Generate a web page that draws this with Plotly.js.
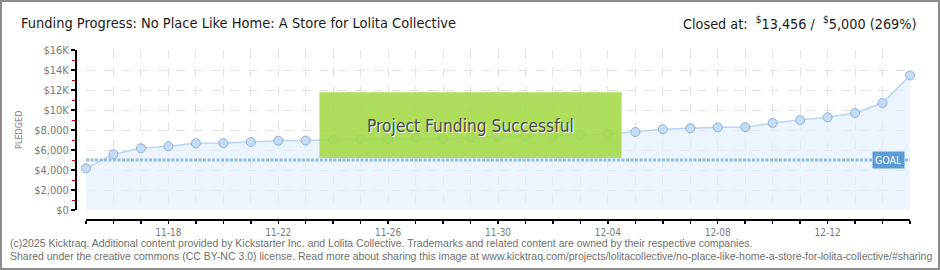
<!DOCTYPE html>
<html>
<head>
<meta charset="utf-8">
<script src="https://cdn.plot.ly/plotly-3.0.1.min.js"></script>
<style>
  html, body { margin: 0; padding: 0; background: #fff; }
  #wrap { position: relative; width: 940px; height: 270px; }
  #chart { position: absolute; left: 0; top: 0; width: 940px; height: 270px; }
  #frame { position: absolute; left: 0; top: 0; width: 940px; height: 270px; box-sizing: border-box;
           border: 2px solid #8c8c8c; pointer-events: none; }
</style>
</head>
<body>
<div id="wrap"><div id="chart"></div><div id="frame"></div></div>
<script>
// ---- data ----
const dates = ["11-15","11-16","11-17","11-18","11-19","11-20","11-21","11-22","11-23","11-24",
               "11-25","11-26","11-27","11-28","11-29","11-30","12-01","12-02","12-03","12-04",
               "12-05","12-06","12-07","12-08","12-09","12-10","12-11","12-12","12-13","12-14","12-15"];
const pledged = [4170, 5570, 6170, 6370, 6670, 6690, 6800, 6930, 6950, 7020,
                 7100, 7080, 7180, 7100, 7250, 7340, 7400, 7420, 7500, 7600,
                 7800, 8070, 8170, 8270, 8280, 8700, 9000, 9270, 9700, 10700, 13456];
const goal = 5000;
const xTickLabels = ["11-18","11-22","11-26","11-30","12-04","12-08","12-12"];
const yTickVals = [0, 2000, 4000, 6000, 8000, 10000, 12000, 14000, 16000];
const yTickText = ["$0","$2,000","$4,000","$6,000","$8,000","$10K","$12K","$14K","$16K"];
const titleText = "Funding Progress: No Place Like Home: A Store for Lolita Collective";
const closedText = "Closed at:  <sup>$</sup>13,456 /  <sup>$</sup>5,000 (269%)";
const footer1 = "(c)2025 Kicktraq. Additional content provided by Kickstarter Inc. and Lolita Collective. Trademarks and related content are owned by their respective companies.";
const footer2 = "Shared under the creative commons (CC BY-NC 3.0) license. Read more about sharing this image at www.kicktraq.com/projects/lolitacollective/no-place-like-home-a-store-for-lolita-collective/#sharing";

// ---- geometry (px) ----
const W = 940, H = 270;
const mL = 76, mR = 30, mT = 50, mB = 50;
const pw = W - mL - mR, ph = H - mT - mB;
const px = v => (v - mL) / pw;          // page x px -> paper
const py = v => (H - mB - v) / ph;      // page y px -> paper

// numeric positions of the dates on the axis, labelled through tickvals/ticktext
const xIdx = dates.map((d, i) => i);
const labelIdx = xTickLabels.map(l => dates.indexOf(l));

const trace = {
  x: xIdx, y: pledged, type: "scatter", mode: "lines+markers",
  text: dates,
  line: {color: "#b9d5f3", width: 1.5},
  fill: "tozeroy", fillcolor: "rgba(226,238,252,0.65)",
  marker: {size: 9, color: "#c4dcf6", line: {color: "#8fb2dd", width: 1}},
  cliponaxis: false, hoverinfo: "skip"
};

const tickFont = {family: "DejaVu Sans Condensed, DejaVu Sans", size: 11, color: "#7a7a7a"};

const layout = {
  width: W, height: H,
  margin: {l: mL, r: mR, t: mT, b: mB, pad: 0},
  paper_bgcolor: "#fff", plot_bgcolor: "rgba(0,0,0,0)",
  showlegend: false,
  xaxis: {
    type: "linear", range: [0, dates.length - 1],
    domain: [10 / pw, 1], anchor: "free", position: 0,
    tickmode: "array", tickvals: labelIdx, ticktext: xTickLabels,
    showline: true, linecolor: "#000", linewidth: 2,
    ticks: "outside", ticklen: 3, tickwidth: 1.5, tickcolor: "#000",
    minor: {tickmode: "linear", tick0: 0, dtick: 1, ticks: "outside", ticklen: 3, tickwidth: 1.5, tickcolor: "#000",
            showgrid: true, gridcolor: "#e2e2e2", griddash: "dash", gridwidth: 1},
    showgrid: true, gridcolor: "#e2e2e2", griddash: "dash", gridwidth: 1,
    zeroline: false, tickfont: {family: "DejaVu Sans Condensed, DejaVu Sans", size: 10, color: "#7a7a7a"},
    fixedrange: true
  },
  yaxis: {
    range: [0, 16000], domain: [10 / ph, 1], anchor: "free", position: 0,
    tickmode: "array", tickvals: yTickVals, ticktext: yTickText,
    showline: true, linecolor: "#000", linewidth: 2,
    ticks: "outside", ticklen: 4, tickwidth: 1.5, tickcolor: "#000",
    minor: {tickmode: "linear", tick0: 1000, dtick: 2000, ticks: "outside", ticklen: 3, tickcolor: "#e00000", tickwidth: 1, showgrid: false},
    showgrid: true, gridcolor: "#e2e2e2", griddash: "dash", gridwidth: 1,
    zeroline: false, tickfont: tickFont, fixedrange: true
  },
  shapes: [
    {type: "line", xref: "x domain", yref: "y", x0: 0, x1: 1, y0: goal, y1: goal,
     line: {color: "#93b9e6", width: 3, dash: "3px,1.5px"}, layer: "above"},
    {type: "rect", xref: "x", yref: "y", x0: 8.5, x1: 19.5, y0: 5200, y1: 11800,
     fillcolor: "rgba(164,218,70,0.88)", line: {width: 0}, layer: "above"},
    {type: "line", xref: "x", yref: "y", x0: 8.5, x1: 19.5, y0: 11780, y1: 11780,
     line: {color: "rgba(205,240,150,0.9)", width: 1}, layer: "above"}
  ],
  annotations: [
    {xref: "x", yref: "y", x: 14, y: 8450, text: "Project Funding Successful", showarrow: false,
     font: {family: "DejaVu Sans Condensed", size: 17.3, color: "#4a4a4a",
            shadow: "1px 1px 0px #ffffff"}},
    {xref: "paper", yref: "y", x: 1, xshift: -5, y: goal, xanchor: "right", yanchor: "middle",
     text: "GOAL", showarrow: false, bgcolor: "#5b9bd8", borderpad: 2,
     font: {family: "DejaVu Sans Condensed, DejaVu Sans", size: 10.5, color: "#ffffff"}},
    {xref: "paper", yref: "paper", x: px(19), y: py(130), text: "PLEDGED", textangle: -90, showarrow: false,
     xanchor: "center", yanchor: "middle",
     font: {family: "DejaVu Sans Condensed, DejaVu Sans", size: 9, color: "#7a7a7a"}},
    {xref: "paper", yref: "paper", x: px(19), y: py(23), text: titleText, showarrow: false,
     xanchor: "left", yanchor: "middle",
     font: {family: "DejaVu Sans Condensed", size: 14.5, color: "#1a1a1a"}},
    {xref: "paper", yref: "paper", x: px(919), y: py(23), text: closedText, showarrow: false,
     xanchor: "right", yanchor: "middle",
     font: {family: "DejaVu Sans Condensed", size: 14.3, color: "#1a1a1a"}},
    {xref: "paper", yref: "paper", x: px(8), y: py(243), text: footer1, showarrow: false,
     xanchor: "left", yanchor: "middle",
     font: {family: "Liberation Sans, DejaVu Sans", size: 10.5, color: "#6f6f6f"}},
    {xref: "paper", yref: "paper", x: px(8), y: py(256), text: footer2, showarrow: false,
     xanchor: "left", yanchor: "middle",
     font: {family: "Liberation Sans, DejaVu Sans", size: 10.5, color: "#6f6f6f"}}
  ]
};

Plotly.newPlot("chart", [trace], layout, {staticPlot: true, displayModeBar: false});
</script>
</body>
</html>
